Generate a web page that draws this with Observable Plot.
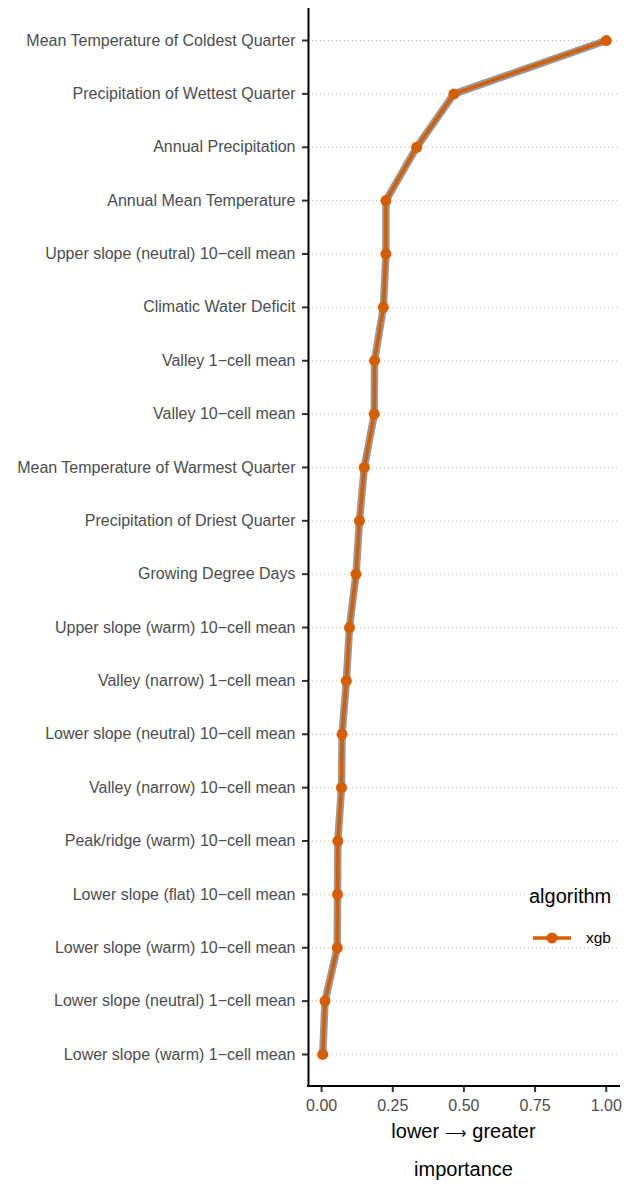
<!DOCTYPE html>
<html>
<head>
<meta charset="utf-8">
<script src="https://cdn.jsdelivr.net/npm/d3@7"></script>
<script src="https://cdn.jsdelivr.net/npm/@observablehq/plot@0.6"></script>
<style>
  html, body { margin: 0; padding: 0; background: #fff; }
  #wrap { position: relative; width: 631px; height: 1184px; font-family: "Liberation Sans", Arial, sans-serif; }
  .title { position: absolute; color: #000; font-size: 20px; white-space: nowrap; }
  .arrow { font-family: "DejaVu Sans", sans-serif; font-size: 15px; font-weight: 200; }
  #leg { position: absolute; left: 529px; top: 885px; }
  #legItem { position: absolute; left: 530px; top: 929px; display: flex; align-items: center; }
  #legItem span { font-size: 15.5px; color: #000; margin-left: 12px; }
</style>
</head>
<body>
<div id="wrap">
  <div id="chart"></div>
  <div class="title" id="xt1" style="left:0;width:631px;top:1120px;text-align:center;padding-left:296px;box-sizing:border-box;">lower <span class="arrow">⟶</span> greater</div>
  <div class="title" id="xt2" style="left:0;width:631px;top:1158px;text-align:center;padding-left:296px;box-sizing:border-box;">importance</div>
  <div class="title" id="leg">algorithm</div>
  <div id="legItem"><svg width="44" height="14"><line x1="3" x2="41" y1="7" y2="7" stroke="#D55E00" stroke-width="3.5"/><circle cx="22" cy="7" r="5.5" fill="#D55E00"/></svg><span>xgb</span></div>
</div>
<script>
const variables = [
  "Mean Temperature of Coldest Quarter",
  "Precipitation of Wettest Quarter",
  "Annual Precipitation",
  "Annual Mean Temperature",
  "Upper slope (neutral) 10\u2212cell mean",
  "Climatic Water Deficit",
  "Valley 1\u2212cell mean",
  "Valley 10\u2212cell mean",
  "Mean Temperature of Warmest Quarter",
  "Precipitation of Driest Quarter",
  "Growing Degree Days",
  "Upper slope (warm) 10\u2212cell mean",
  "Valley (narrow) 1\u2212cell mean",
  "Lower slope (neutral) 10\u2212cell mean",
  "Valley (narrow) 10\u2212cell mean",
  "Peak/ridge (warm) 10\u2212cell mean",
  "Lower slope (flat) 10\u2212cell mean",
  "Lower slope (warm) 10\u2212cell mean",
  "Lower slope (neutral) 1\u2212cell mean",
  "Lower slope (warm) 1\u2212cell mean"
];
const importance = [1.000, 0.465, 0.334, 0.226, 0.226, 0.217, 0.186, 0.185, 0.150, 0.133,
                    0.121, 0.098, 0.087, 0.072, 0.070, 0.057, 0.056, 0.055, 0.012, 0.004];
const algorithm = "xgb";
const xTicks = [0, 0.25, 0.5, 0.75, 1];

const data = variables.map((v, i) => ({variable: v, importance: importance[i], algorithm}));
const xDomain = [-0.046, 1.05];

const chart = Plot.plot({
  width: 631,
  height: 1184,
  marginLeft: 308,
  marginRight: 11,
  marginTop: 8,
  marginBottom: 98,
  style: {fontFamily: "'Liberation Sans', Arial, sans-serif", fontSize: "16px", background: "#fff", color: "#4d4d4d"},
  x: {domain: xDomain, ticks: xTicks, tickFormat: d3.format(".2f"), label: null},
  y: {domain: variables, type: "point", padding: 0.6, round: false, label: null},
  marks: [
    Plot.gridY(variables, {stroke: "#bdbdbd", strokeOpacity: 1, strokeWidth: 1, strokeDasharray: "1,3"}),
    Plot.line(data, {x: "importance", y: "variable", stroke: "#999999", strokeWidth: 7.5}),
    Plot.line(data, {x: "importance", y: "variable", stroke: "#D55E00", strokeWidth: 3.5}),
    Plot.dot(data, {x: "importance", y: "variable", r: 5.5, fill: "#D55E00"}),
    Plot.axisY({tickSize: 6, tickPadding: 7, stroke: "#333", strokeWidth: 2, fill: "#4d4d4d", fontSize: 16, label: null}),
    Plot.axisX({ticks: xTicks, tickFormat: d3.format(".2f"), tickSize: 6, tickPadding: 7, stroke: "#333", strokeWidth: 2, fill: "#4d4d4d", fontSize: 16, label: null}),
    Plot.ruleX([xDomain[0]], {stroke: "#000", strokeWidth: 2})
  ]
});
document.getElementById("chart").appendChild(chart);

// bottom axis line along the x scale's range
const sx = chart.scale("x");
const svg = d3.select(chart);
svg.append("line")
  .attr("x1", sx.range[0] - 1).attr("x2", sx.range[1])
  .attr("y1", 1184 - 98).attr("y2", 1184 - 98)
  .attr("stroke", "#000").attr("stroke-width", 2);
</script>
</body>
</html>
